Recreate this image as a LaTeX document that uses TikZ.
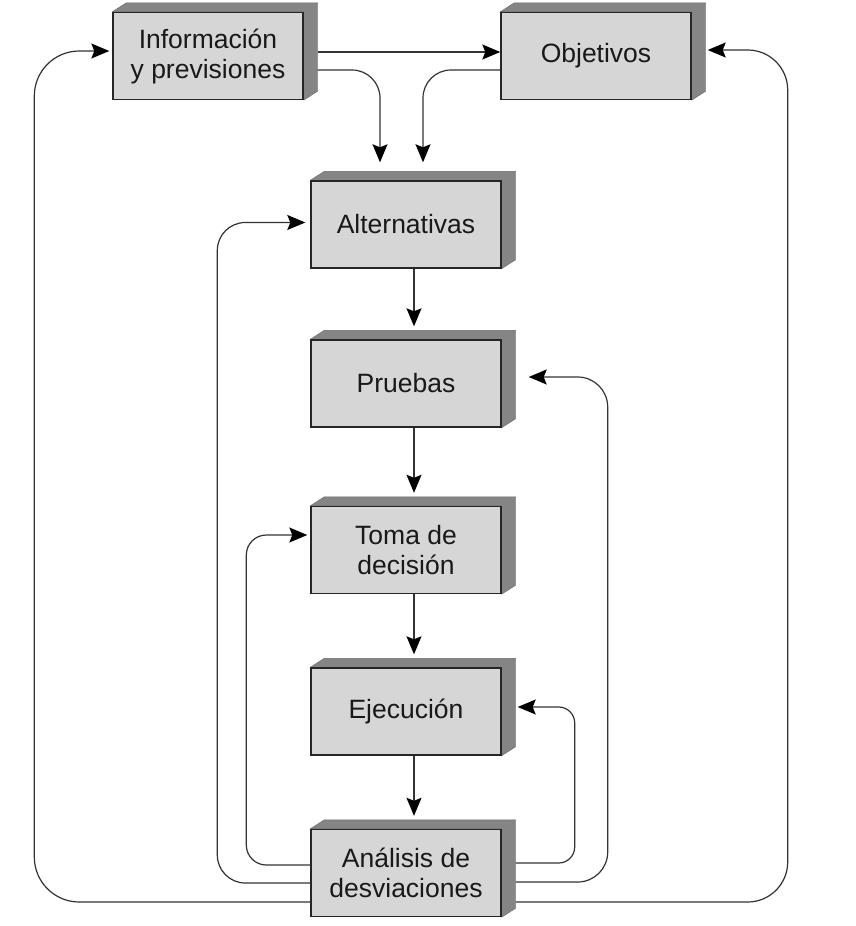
\documentclass[tikz,border=0pt]{standalone}
\usepackage{fontspec}
\setmainfont{Liberation Sans}
\usetikzlibrary{arrows.meta,calc,backgrounds}
\definecolor{frontc}{HTML}{D6D6D6}
\definecolor{sidec}{HTML}{858585}
\definecolor{linec}{HTML}{333333}
\tikzset{
 boxnode/.style={draw=black!85, line width=1.4pt, fill=frontc, minimum width=190pt, minimum height=87pt, inner sep=0pt, align=center, font=\fontsize{26.5}{30}\selectfont, text=black!90},
 arr/.style={draw=linec, line width=1.2pt, -{Stealth[length=18pt,width=15pt,inset=3pt,fill=black,color=black]}},
 face/.style={fill=sidec, draw=sidec!80!black, line width=0.4pt}
}
\newcommand\cubebox[3]{%
 \node[boxnode] (#1) at (#2) {#3};
 \begin{pgfonlayer}{background}
 \path[face] (#1.north west) -- ++(14,-9) -- ($(#1.north east)+(14,-9)$) -- ($(#1.south east)+(14,-9)$) -- (#1.south east) -- (#1.north east) -- cycle;
 \end{pgfonlayer}
}
\begin{document}
\begin{tikzpicture}[x=1pt,y=-1pt]
\useasboundingbox (0,0) rectangle (856,926);
\begin{pgfonlayer}{background}
\fill[white] (0,0) rectangle (856,926);
\end{pgfonlayer}
\cubebox{info}{208,56}{Información\\y previsiones}
\cubebox{obj}{596,56}{Objetivos}
\cubebox{alt}{406,224.5}{Alternativas}
\cubebox{pru}{406,383.5}{Pruebas}
\cubebox{toma}{406,550}{Toma de\\decisión}
\cubebox{eje}{406,711.5}{Ejecución}
\cubebox{ana}{406,873}{Análisis de\\desviaciones}

% top connectors
\draw[arr] ([shift={(14,-4)}]info.east) -- ([shift={(0,-4)}]obj.west);
\draw[arr,rounded corners=28] ([shift={(14,14)}]info.east) -| ([shift={(-26,-18)}]alt.north);
\draw[arr,rounded corners=28] ([shift={(0,14)}]obj.west) -| ([shift={(17,-18)}]alt.north);

% main chain
\draw[arr] ([shift={(8,0)}]alt.south) -- ([shift={(8,-13)}]pru.north);
\draw[arr] ([shift={(8,0)}]pru.south) -- ([shift={(8,-13)}]toma.north);
\draw[arr] ([shift={(8,0)}]toma.south) -- ([shift={(8,-13)}]eje.north);
\draw[arr] ([shift={(8,0)}]eje.south) -- ([shift={(8,-13)}]ana.north);

% left feedback
\draw[arr,rounded corners=20] ([shift={(0,-8)}]ana.west) -| ([shift={(-64,-15)}]toma.west) -- ([shift={(-3,-15)}]toma.west);
\draw[arr,rounded corners=28] ([shift={(0,10)}]ana.west) -| ([shift={(-93,-2)}]alt.west) -- ([shift={(-5,-2)}]alt.west);
\draw[arr,rounded corners=45] ([shift={(0,29)}]ana.west) -| ([shift={(-78,-5)}]info.west) -- ([shift={(-3,-5)}]info.west);

% right feedback
\draw[arr,rounded corners=16] ([shift={(14,-10)}]ana.east) -| ([shift={(73,-4.5)}]eje.east) -- ([shift={(16,-4.5)}]eje.east);
\draw[arr,rounded corners=30] ([shift={(14,9)}]ana.east) -| ([shift={(106,-6.5)}]pru.east) -- ([shift={(27,-6.5)}]pru.east);
\draw[arr,rounded corners=40] ([shift={(14,29)}]ana.east) -| ([shift={(96,-6)}]obj.east) -- ([shift={(16,-6)}]obj.east);
\end{tikzpicture}
\end{document}
